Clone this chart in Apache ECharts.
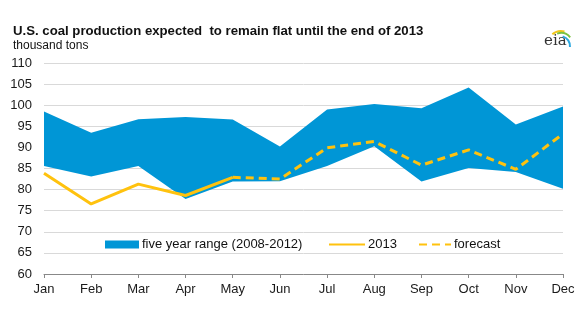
<!DOCTYPE html>
<html><head><meta charset="utf-8">
<script src="https://cdn.jsdelivr.net/npm/echarts@6/dist/echarts.min.js"></script>
<style>html,body{margin:0;padding:0;background:#fff}#c{width:588px;height:327px}</style>
</head><body><div id="c"></div>
<script>
const months = ['Jan','Feb','Mar','Apr','May','Jun','Jul','Aug','Sep','Oct','Nov','Dec'];
const rangeLow  = [85.6, 83.1, 85.6, 77.8, 81.9, 82.0, 85.6, 90.3, 81.9, 85.1, 84.2, 80.2];
const rangeHigh = [98.5, 93.5, 96.7, 97.2, 96.6, 90.2, 99.0, 100.3, 99.3, 104.2, 95.4, 99.7];
const actual2013 = [83.9, 76.6, 81.3, 78.6, 82.9, null, null, null, null, null, null, null];
const forecast   = [null, null, null, null, 82.9, 82.5, 89.9, 91.4, 85.8, 89.4, 84.8, 93.2];
const yTicks = {min: 60, max: 110, step: 5};

const rangeSpan = rangeHigh.map((h, i) => +(h - rangeLow[i]).toFixed(2));
const BLUE = '#0096d6', GOLD = '#ffc20e';
const FONT = 'Liberation Sans, Arial, sans-serif';
const legendText = {fontFamily: FONT, fontSize: 13, color: '#111', padding: [0,0,0,-2]};

const chart = echarts.init(document.getElementById('c'));
chart.setOption({
  animation: false,
  title: {
    text: 'U.S. coal production expected  to remain flat until the end of 2013',
    subtext: 'thousand tons',
    left: 8, top: 20, itemGap: 2,
    textStyle: {fontFamily: FONT, fontSize: 13.2, fontWeight: 'bold', color: '#111'},
    subtextStyle: {fontFamily: FONT, fontSize: 12, color: '#111'}
  },
  grid: {left: 44, right: 25, top: 63, bottom: 53},
  legend: [
    {top: 233, left: 100, itemWidth: 34, itemHeight: 8, textStyle: legendText,
     data: [{name: 'five year range (2008-2012)', icon: 'rect'}]},
    {top: 233, left: 323, itemWidth: 36, itemHeight: 8, textStyle: legendText,
     data: [{name: '2013', itemStyle: {opacity: 0}}]},
    {top: 233, left: 413, itemWidth: 32, itemHeight: 8, textStyle: legendText,
     data: [{name: 'forecast', itemStyle: {opacity: 0}}]}
  ],
  xAxis: {
    type: 'category', data: months, boundaryGap: false,
    axisLine: {lineStyle: {color: '#888', width: 1}},
    axisTick: {show: true, length: 4, lineStyle: {color: '#888'}},
    axisLabel: {fontFamily: FONT, fontSize: 13, color: '#1a1a1a', margin: 9}
  },
  yAxis: {
    type: 'value', min: yTicks.min, max: yTicks.max, interval: yTicks.step,
    axisLine: {show: false}, axisTick: {show: false},
    axisLabel: {fontFamily: FONT, fontSize: 13, color: '#1a1a1a', margin: 12},
    splitLine: {lineStyle: {color: '#d9d9d9', width: 1}}
  },
  graphic: [
    {type: 'text', left: 544, top: 34, style: {text: 'eia', font: '15px DejaVu Serif, serif', fill: '#333'}},
    {type: 'arc', shape: {cx: 561, cy: 44, r: 13, startAngle: -2.3, endAngle: -1.3}, style: {stroke: '#f2c61b', lineWidth: 2, fill: null}},
    {type: 'arc', shape: {cx: 561, cy: 45, r: 12, startAngle: -1.9, endAngle: -0.7}, style: {stroke: '#7cc242', lineWidth: 2, fill: null}},
    {type: 'arc', shape: {cx: 560, cy: 46, r: 10, startAngle: -1.3, endAngle: 0.1}, style: {stroke: '#2aa7df', lineWidth: 2, fill: null}}
  ],
  series: [
    {name: 'low', type: 'line', data: rangeLow, stack: 'band', symbol: 'none',
     lineStyle: {width: 0, opacity: 0}, areaStyle: {opacity: 0}, silent: true, z: 1},
    {name: 'five year range (2008-2012)', type: 'line', data: rangeSpan, stack: 'band', symbol: 'none',
     color: BLUE, lineStyle: {width: 0, opacity: 0}, areaStyle: {color: BLUE, opacity: 1}, z: 1},
    {name: '2013', type: 'line', data: actual2013, symbol: 'none', color: GOLD,
     lineStyle: {color: GOLD, width: 3}, z: 3},
    {name: 'forecast', type: 'line', data: forecast, symbol: 'none', color: GOLD,
     lineStyle: {color: GOLD, width: 3, type: [8, 5]}, z: 3}
  ]
});
</script></body></html>
